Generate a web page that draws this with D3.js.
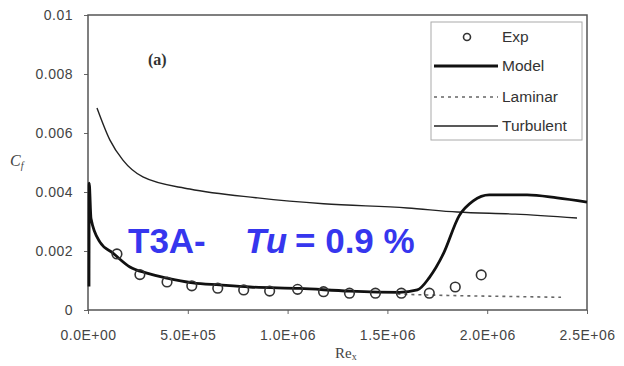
<!DOCTYPE html>
<meta charset="utf-8">
<style>
body { margin: 0; background: #fff; }
svg { display: block; }
.tick text { font-family: Arial, "Liberation Sans", sans-serif; font-size: 14px; letter-spacing: 0.5px; fill: #444; }
.tick line { stroke: #666; }
.frame { fill: none; stroke: #555; stroke-width: 1.5px; }
.model { fill: none; stroke: #111; stroke-width: 2.8px; stroke-linejoin: round; }
.turb { fill: none; stroke: #222; stroke-width: 1.4px; }
.lam { fill: none; stroke: #666; stroke-width: 1.6px; stroke-dasharray: 3,4; }
.exp { fill: none; stroke: #333; stroke-width: 1.6px; }
.legend text { font-family: Arial, "Liberation Sans", sans-serif; font-size: 15.5px; fill: #333; }
</style>
<svg width="624" height="366"></svg>
<script src="https://cdn.jsdelivr.net/npm/d3@7"></script>
<script>

// values: [Re_x, Cf]
var expData = [
  [145000, 0.0019], [260000, 0.0012], [396000, 0.00095], [520000, 0.00082],
  [650000, 0.00074], [780000, 0.00068], [910000, 0.00064], [1050000, 0.0007],
  [1180000, 0.00062], [1310000, 0.00057], [1440000, 0.00057], [1570000, 0.00057],
  [1710000, 0.00057], [1840000, 0.00078], [1970000, 0.00119]
];

var modelData = [
  [5000, 0.0008], [6000, 0.0043], [15000, 0.0031], [60000, 0.0023],
  [125000, 0.00193], [210000, 0.00146], [295000, 0.00125], [395000, 0.00108],
  [525000, 0.00092], [660000, 0.00085], [810000, 0.00078], [1060000, 0.00073],
  [1310000, 0.00064], [1560000, 0.0006], [1650000, 0.00068], [1710000, 0.0011],
  [1780000, 0.0019], [1860000, 0.0032], [1930000, 0.0037], [2010000, 0.0039],
  [2200000, 0.0039], [2350000, 0.0038], [2500000, 0.00366]
];

var laminarData = [
  [1550000, 0.00054], [1700000, 0.00051], [1900000, 0.00048],
  [2100000, 0.00046], [2370000, 0.00043]
];

var turbulentData = [
  [45000, 0.00685], [110000, 0.00576], [175000, 0.00508], [275000, 0.00451],
  [510000, 0.0041], [850000, 0.0038], [1180000, 0.0036], [1600000, 0.00346],
  [1850000, 0.00332], [2140000, 0.00325], [2450000, 0.00312]
];

var xTicks = [0, 500000, 1000000, 1500000, 2000000, 2500000];
var xTickLabels = ["0.0E+00", "5.0E+05", "1.0E+06", "1.5E+06", "2.0E+06", "2.5E+06"];
var yTicks = [0, 0.002, 0.004, 0.006, 0.008, 0.01];
var yTickLabels = ["0", "0.002", "0.004", "0.006", "0.008", "0.01"];
var legendNames = ["Exp", "Model", "Laminar", "Turbulent"];

var svg = d3.select("svg");

var x = d3.scaleLinear().domain([0, 2500000]).range([88, 587]);
var y = d3.scaleLinear().domain([0, 0.01]).range([310, 15]);

// axes
svg.append("g")
    .attr("transform", "translate(0,310)")
    .call(d3.axisBottom(x).tickValues(xTicks).tickSize(4).tickPadding(16)
      .tickFormat(function(d, i) { return xTickLabels[i]; }))
    .call(function(g) { g.select(".domain").remove(); });

svg.append("g")
    .attr("transform", "translate(88,0)")
    .call(d3.axisLeft(y).tickValues(yTicks).tickSize(4).tickPadding(11)
      .tickFormat(function(d, i) { return yTickLabels[i]; }))
    .call(function(g) { g.select(".domain").remove(); });

svg.append("rect")
    .attr("class", "frame")
    .attr("x", 88).attr("y", 15)
    .attr("width", 587 - 88).attr("height", 310 - 15);

var line = d3.line()
    .x(function(d) { return x(d[0]); })
    .y(function(d) { return y(d[1]); })
    .curve(d3.curveMonotoneX);

svg.append("path").datum(turbulentData).attr("class", "turb").attr("d", line);
svg.append("path").datum(laminarData).attr("class", "lam").attr("d", line);
svg.append("path").datum(modelData).attr("class", "model").attr("d", line);

svg.append("g").selectAll("circle")
    .data(expData)
  .enter().append("circle")
    .attr("class", "exp")
    .attr("cx", function(d) { return x(d[0]); })
    .attr("cy", function(d) { return y(d[1]); })
    .attr("r", 4.8);

// axis titles
var yl = svg.append("text")
    .attr("x", 10).attr("y", 166)
    .style("font-family", "'Liberation Serif', 'Times New Roman', serif")
    .style("font-style", "italic")
    .style("font-size", "16px")
    .style("fill", "#444");
yl.append("tspan").text("C");
yl.append("tspan").attr("dy", 3).style("font-size", "10px").text("f");

var xl = svg.append("text")
    .attr("x", 335).attr("y", 358)
    .style("font-family", "'Liberation Serif', 'Times New Roman', serif")
    .style("font-size", "15px")
    .style("fill", "#444");
xl.append("tspan").text("Re");
xl.append("tspan").attr("dy", 2).style("font-size", "10px").text("x");

svg.append("text")
    .attr("x", 148).attr("y", 65)
    .style("font-family", "'Liberation Serif', 'Times New Roman', serif")
    .style("font-weight", "bold")
    .style("font-size", "16px")
    .style("fill", "#333")
    .text("(a)");

// legend
var lg = svg.append("g").attr("class", "legend");
lg.append("rect")
    .attr("x", 431).attr("y", 22).attr("width", 151).attr("height", 118)
    .style("fill", "#fff").style("stroke", "#aaa").style("stroke-width", 1);

var ly = [37, 66, 97, 126];
lg.append("circle").attr("class", "exp").attr("cx", 467).attr("cy", ly[0]).attr("r", 3.5);
lg.append("line").attr("class", "model").attr("x1", 434).attr("x2", 498).attr("y1", ly[1]).attr("y2", ly[1]);
lg.append("line").attr("class", "lam").attr("x1", 434).attr("x2", 498).attr("y1", ly[2]).attr("y2", ly[2]);
lg.append("line").attr("class", "turb").attr("x1", 434).attr("x2", 498).attr("y1", ly[3]).attr("y2", ly[3]);
lg.selectAll("text.lt")
    .data(legendNames)
  .enter().append("text")
    .attr("class", "lt")
    .attr("x", 502)
    .attr("y", function(d, i) { return ly[i]; })
    .attr("dy", "0.35em")
    .text(function(d) { return d; });

// blue annotation
var note = svg.append("text")
    .attr("x", 128).attr("y", 253)
    .style("font-family", "Arial, 'Liberation Sans', sans-serif")
    .style("font-weight", "bold")
    .style("font-size", "35px")
    .style("fill", "#3636ee");
note.append("tspan").text("T3A-");
note.append("tspan").attr("x", 245).style("font-style", "italic").text("Tu");
note.append("tspan").attr("x", 295).text("= 0.9 %");

</script>
